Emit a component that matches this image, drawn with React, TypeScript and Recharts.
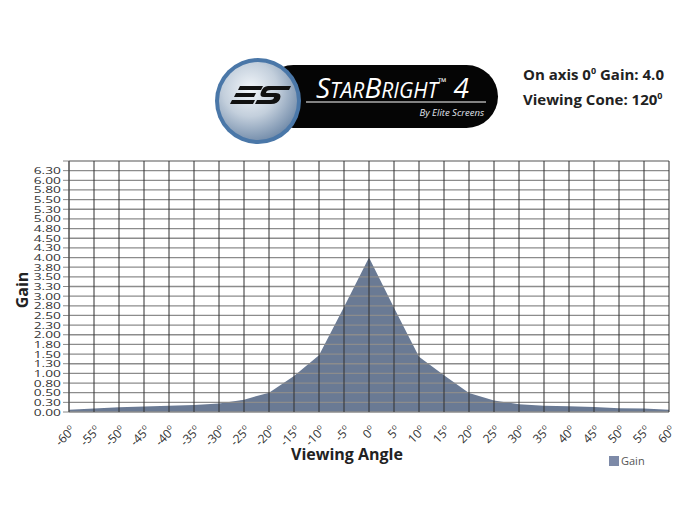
import { Area, AreaChart, ReferenceLine, XAxis, YAxis } from 'recharts'

const angles = [-60, -55, -50, -45, -40, -35, -30, -25, -20, -15, -10, -5, 0, 5, 10, 15, 20, 25, 30, 35, 40, 45, 50, 55, 60]
const gain = [0.06, 0.09, 0.12, 0.14, 0.16, 0.18, 0.22, 0.32, 0.5, 0.93, 1.47, 2.72, 4.0, 2.7, 1.43, 0.95, 0.49, 0.3, 0.2, 0.165, 0.15, 0.13, 0.1, 0.09, 0.06]

const yTicks = [0, 0.25, 0.5, 0.75, 1, 1.25, 1.5, 1.75, 2, 2.25, 2.5, 2.75, 3, 3.25, 3.5, 3.75, 4, 4.25, 4.5, 4.75, 5, 5.25, 5.5, 5.75, 6, 6.25, 6.5]
const yTickLabels = ['0.00', '0.30', '0.50', '0.80', '1.00', '1.30', '1.50', '1.80', '2.00', '2.30', '2.50', '2.80', '3.00', '3.30', '3.50', '3.80', '4.00', '4.30', '4.50', '4.80', '5.00', '5.30', '5.50', '5.80', '6.00', '6.30', '']

const data = angles.map((a, i) => ({ angle: a, gain: gain[i] }))

const FONT = '"Open Sans", sans-serif'
const FILL = '#6a7a94'
const MARGIN = { top: 161, right: 31, bottom: 66, left: 9 }

function AngleTick({ x, y, payload }: any) {
  return (
    <text
      transform={`translate(${x + 7},${y + 11}) rotate(-45)`}
      textAnchor="end"
      fontFamily={FONT}
      fontSize={12}
      fill="#333"
    >
      {payload.value}
      <tspan fontSize={8} dy={-5}>
        o
      </tspan>
    </text>
  )
}

function GainTick({ x, y, payload }: any) {
  const i = yTicks.indexOf(payload.value)
  return (
    <text
      transform={`translate(${x},${y + 3.5}) scale(1.45,1)`}
      textAnchor="end"
      fontFamily={FONT}
      fontSize={9.5}
      fill="#333"
    >
      {yTickLabels[i]}
    </text>
  )
}

function Logo() {
  return (
    <svg width={700} height={160} style={{ position: 'absolute', left: 0, top: 0 }}>
      <defs>
        <radialGradient id="disc" cx="40%" cy="35%" r="70%">
          <stop offset="0%" stopColor="#f2f6fa" />
          <stop offset="50%" stopColor="#c3cfdc" />
          <stop offset="100%" stopColor="#6f89a8" />
        </radialGradient>
      </defs>
      <rect x={262} y={65} width={236} height={63} rx={31.5} fill="#050505" />
      <line x1={306} y1={102} x2={486} y2={102} stroke="#fff" strokeWidth={1.2} />
      <text x={316} y={98} fill="#fff" fontFamily={FONT} fontStyle="italic" fontSize={28}>
        S<tspan fontSize={21}>TAR</tspan>B<tspan fontSize={21}>RIGHT</tspan>
        <tspan fontSize={11} dy={-12}>™</tspan>
        <tspan dy={12}> 4</tspan>
      </text>
      <text x={484} y={116} textAnchor="end" fill="#e0e4ec" fontFamily={FONT} fontStyle="italic" fontSize={9.5}>
        By Elite Screens
      </text>
      <circle cx={258} cy={101} r={43} fill="#4a77a8" />
      <circle cx={258} cy={101} r={39} fill="url(#disc)" />
      <g fill="#111">
        <polygon points="240,86 263,86 261,90 238,90" />
        <polygon points="236,93 256,93 254,97 234,97" />
        <polygon points="232,100 255,100 253,104 230,104" />
        <path d="M268,86 L291,86 L289,90 L271,90 Q266,90 266,93 L276,93 Q282,93 280,99 Q278,104 271,104 L255,104 L257,100 L270,100 Q274,100 274,97 L264,97 Q259,97 261,92 Q263,86 268,86 Z" />
      </g>
    </svg>
  )
}

export default function App() {
  return (
    <div style={{ position: 'absolute', left: 0, top: 0, width: 700, height: 518, background: '#fff', fontFamily: FONT }}>
      <Logo />
      <div style={{ position: 'absolute', left: 523, top: 60, fontWeight: 700, fontSize: 15, lineHeight: '22px', color: '#222' }}>
        <div>
          On axis 0<sup style={{ fontSize: 9 }}>0</sup> Gain: 4.0
        </div>
        <div>
          Viewing Cone: 120<sup style={{ fontSize: 9 }}>0</sup>
        </div>
      </div>
      <div style={{ position: 'absolute', left: 0, top: 0 }}>
        <AreaChart width={700} height={518} data={data} margin={MARGIN}>
          <XAxis
            dataKey="angle"
            type="number"
            domain={[-60, 60]}
            ticks={angles}
            tick={<AngleTick />}
            tickLine={false}
            axisLine={false}
            height={40}
            interval={0}
          />
          <YAxis
            type="number"
            domain={[0, 6.5]}
            ticks={yTicks}
            tick={<GainTick />}
            tickSize={6}
            tickLine={{ stroke: '#888' }}
            axisLine={{ stroke: '#888' }}
            width={60}
            interval={0}
          />
          <Area dataKey="gain" type="linear" stroke="none" fill={FILL} fillOpacity={1} isAnimationActive={false} />
        </AreaChart>
      </div>
      {/* grid drawn over the filled area, as in the original */}
      <div style={{ position: 'absolute', left: 0, top: 0, pointerEvents: 'none' }}>
        <AreaChart width={700} height={518} data={data} margin={MARGIN}>
          <XAxis dataKey="angle" type="number" domain={[-60, 60]} ticks={angles} tick={false} tickLine={false} axisLine={false} height={40} />
          <YAxis type="number" domain={[0, 6.5]} ticks={yTicks} tick={false} tickLine={false} axisLine={false} width={60} />
          <Area dataKey="gain" type="linear" stroke="none" fill="none" isAnimationActive={false} />
          {yTicks.map((v) => (
            <ReferenceLine key={'h' + v} y={v} stroke="#8c8c8c" strokeWidth={1.3} />
          ))}
          {angles.map((a) => (
            <ReferenceLine key={'v' + a} x={a} stroke="#303030" strokeWidth={1} />
          ))}
        </AreaChart>
      </div>
      <div
        style={{
          position: 'absolute',
          left: 8,
          top: 290,
          transform: 'translate(-50%,-50%) rotate(-90deg)',
          marginLeft: 14,
          fontWeight: 700,
          fontSize: 16,
          color: '#222',
        }}
      >
        Gain
      </div>
      <div style={{ position: 'absolute', left: 291, top: 443, fontWeight: 700, fontSize: 16, color: '#222' }}>
        Viewing Angle
      </div>
      <div style={{ position: 'absolute', left: 609, top: 453, fontSize: 11, color: '#555', display: 'flex', alignItems: 'center' }}>
        <span style={{ display: 'inline-block', width: 10, height: 10, background: '#7d8aa8', marginRight: 2 }} />
        Gain
      </div>
    </div>
  )
}
